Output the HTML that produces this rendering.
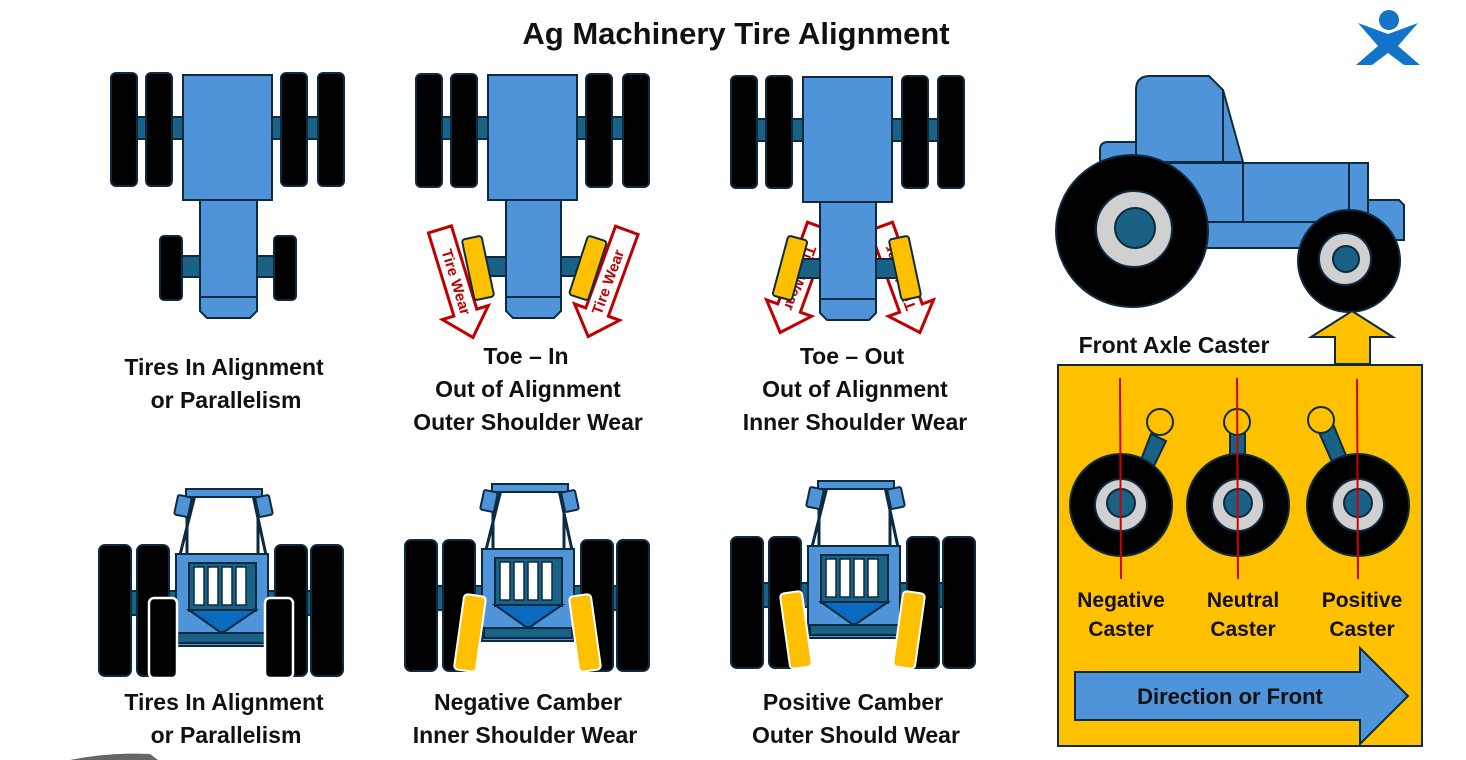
<!DOCTYPE html>
<html><head><meta charset="utf-8"><style>
html,body{margin:0;padding:0;background:#fff;}
svg{display:block;}
text{font-family:"Liberation Sans",sans-serif;font-weight:bold;fill:#111;}
</style></head><body>
<svg width="1466" height="760" viewBox="0 0 1466 760" xmlns="http://www.w3.org/2000/svg">
<defs>
<g id="arr">
<path d="M-12,-55 L12,-55 L12,32 L24,32 L0,58 L-24,32 L-12,32 Z" fill="#fff" stroke="#c00000" stroke-width="3"/>
</g>
</defs>
<text x="736" y="44" font-size="31" text-anchor="middle">Ag Machinery Tire Alignment</text>
<!-- logo -->
<g fill="#1273c7">
<circle cx="1389" cy="20" r="10"/>
<path d="M1358,23 L1388,34 L1418,23 L1398,46 L1420,65 L1404,65 L1388,53 L1372,65 L1356,65 L1378,46 Z"/>
</g>

<!-- top tractor 1 -->
<g stroke="#0d2b40" stroke-width="2">
<rect x="133" y="117" width="185" height="22" fill="#1a6186"/>
<rect x="111" y="73" width="26" height="113" rx="5" fill="#000"/>
<rect x="146" y="73" width="26" height="113" rx="5" fill="#000"/>
<rect x="281" y="73" width="26" height="113" rx="5" fill="#000"/>
<rect x="318" y="73" width="26" height="113" rx="5" fill="#000"/>
<rect x="178" y="256" width="100" height="21" fill="#1a6186"/>
<rect x="160" y="236" width="22" height="64" rx="4" fill="#000"/>
<rect x="274" y="236" width="22" height="64" rx="4" fill="#000"/>
<rect x="183" y="75" width="89" height="125" fill="#4f94d8"/>
<path d="M200,200 L257,200 L257,311 L250,318 L207,318 L200,311 Z" fill="#4f94d8"/>
<line x1="200" y1="297" x2="257" y2="297"/>
</g>
<text x="224" y="375" font-size="23" text-anchor="middle">Tires In Alignment</text>
<text x="226" y="408" font-size="23" text-anchor="middle">or Parallelism</text>

<!-- top tractor 2 toe-in -->
<g transform="translate(456,282) rotate(-17)"><use href="#arr"/><text x="0" y="0" font-size="15" style="fill:#c00000" text-anchor="middle" transform="rotate(90) translate(0,5)">Tire Wear</text></g>
<g transform="translate(608,282) rotate(20)"><use href="#arr"/><text x="0" y="0" font-size="15" style="fill:#c00000" text-anchor="middle" transform="rotate(-90) translate(0,5)">Tire Wear</text></g>
<g stroke="#0d2b40" stroke-width="2">
<rect x="438" y="117" width="185" height="22" fill="#1a6186"/>
<rect x="416" y="74" width="26" height="113" rx="5" fill="#000"/>
<rect x="451" y="74" width="26" height="113" rx="5" fill="#000"/>
<rect x="586" y="74" width="26" height="113" rx="5" fill="#000"/>
<rect x="623" y="74" width="26" height="113" rx="5" fill="#000"/>
<rect x="480" y="257" width="105" height="19" fill="#1a6186"/>
<rect x="488" y="75" width="89" height="125" fill="#4f94d8"/>
<path d="M506,200 L561,200 L561,311 L554,318 L513,318 L506,311 Z" fill="#4f94d8"/>
<line x1="506" y1="297" x2="561" y2="297"/>
<rect x="-10" y="-31" width="20" height="62" rx="3" fill="#ffc000" transform="translate(478,268) rotate(-12)"/>
<rect x="-10" y="-31" width="20" height="62" rx="3" fill="#ffc000" transform="translate(588,268) rotate(18)"/>
</g>
<text x="526" y="364" font-size="23" text-anchor="middle">Toe – In</text>
<text x="528" y="397" font-size="23" text-anchor="middle">Out of Alignment</text>
<text x="528" y="430" font-size="23" text-anchor="middle">Outer Shoulder Wear</text>

<!-- top tractor 3 toe-out -->
<g transform="translate(800,278) rotate(20)"><use href="#arr"/><text x="0" y="0" font-size="15" style="fill:#c00000" text-anchor="middle" transform="rotate(90) translate(0,5)">Tire Wear</text></g>
<g transform="translate(900,278) rotate(-20)"><use href="#arr"/><text x="0" y="0" font-size="15" style="fill:#c00000" text-anchor="middle" transform="rotate(-90) translate(0,5)">Tire Wear</text></g>
<g stroke="#0d2b40" stroke-width="2">
<rect x="753" y="119" width="190" height="22" fill="#1a6186"/>
<rect x="731" y="76" width="26" height="112" rx="5" fill="#000"/>
<rect x="766" y="76" width="26" height="112" rx="5" fill="#000"/>
<rect x="902" y="76" width="26" height="112" rx="5" fill="#000"/>
<rect x="938" y="76" width="26" height="112" rx="5" fill="#000"/>
<rect x="795" y="259" width="110" height="19" fill="#1a6186"/>
<rect x="803" y="77" width="89" height="125" fill="#4f94d8"/>
<path d="M820,202 L876,202 L876,313 L869,320 L827,320 L820,313 Z" fill="#4f94d8"/>
<line x1="820" y1="299" x2="876" y2="299"/>
<rect x="-10" y="-31" width="20" height="62" rx="3" fill="#ffc000" transform="translate(790,268) rotate(15)"/>
<rect x="-10" y="-31" width="20" height="62" rx="3" fill="#ffc000" transform="translate(905,268) rotate(-12)"/>
</g>
<text x="852" y="364" font-size="23" text-anchor="middle">Toe – Out</text>
<text x="855" y="397" font-size="23" text-anchor="middle">Out of Alignment</text>
<text x="855" y="430" font-size="23" text-anchor="middle">Inner Shoulder Wear</text>

<!-- rear view tractors -->
<g id="rv1" stroke="#0d2b40" stroke-width="2">
<rect x="131" y="591" width="182" height="24" fill="#1a6186"/>
<rect x="99" y="545" width="32" height="131" rx="6" fill="#000"/>
<rect x="137" y="545" width="32" height="131" rx="6" fill="#000"/>
<rect x="275" y="545" width="32" height="131" rx="6" fill="#000"/>
<rect x="311" y="545" width="32" height="131" rx="6" fill="#000"/>
<line x1="180" y1="555" x2="195" y2="495" stroke-width="3"/>
<line x1="266" y1="555" x2="253" y2="495" stroke-width="3"/>
<line x1="187" y1="500" x2="187" y2="556" stroke-width="3"/>
<line x1="258" y1="500" x2="258" y2="556" stroke-width="3"/>
<rect x="186" y="489" width="76" height="8" fill="#4f94d8"/>
<rect x="176" y="496" width="14" height="20" rx="2" fill="#4f94d8" transform="rotate(12 183 506)"/>
<rect x="257" y="496" width="14" height="20" rx="2" fill="#4f94d8" transform="rotate(-12 264 506)"/>
<rect x="176" y="554" width="92" height="92" fill="#4f94d8"/>
<rect x="178" y="633" width="88" height="10" fill="#1a6186"/>
<rect x="189" y="563" width="67" height="48" fill="#1a6186"/>
<path d="M189,610 L256,610 L224,632 L220,632 Z" fill="#0a6abf"/>
</g>
<g fill="#fff" stroke="#0d2b40" stroke-width="1.5">
<rect x="194" y="567" width="10" height="38"/><rect x="208" y="567" width="10" height="38"/><rect x="222" y="567" width="10" height="38"/><rect x="236" y="567" width="10" height="38"/>
</g>
<rect x="149" y="598" width="28" height="80" rx="5" fill="#000" stroke="#fff" stroke-width="2.5"/>
<rect x="265" y="598" width="28" height="80" rx="5" fill="#000" stroke="#fff" stroke-width="2.5"/>
<text x="224" y="710" font-size="23" text-anchor="middle">Tires In Alignment</text>
<text x="226" y="743" font-size="23" text-anchor="middle">or Parallelism</text>

<g transform="translate(306,-5)">
<use href="#rv1"/>
<g fill="#fff" stroke="#0d2b40" stroke-width="1.5">
<rect x="194" y="567" width="10" height="38"/><rect x="208" y="567" width="10" height="38"/><rect x="222" y="567" width="10" height="38"/><rect x="236" y="567" width="10" height="38"/>
</g>
</g>
<rect x="-11" y="-38" width="22" height="76" rx="4" fill="#ffc000" stroke="#fff" stroke-width="2" transform="translate(470,633) rotate(8)"/>
<rect x="-11" y="-38" width="22" height="76" rx="4" fill="#ffc000" stroke="#fff" stroke-width="2" transform="translate(585,633) rotate(-8)"/>
<text x="528" y="710" font-size="23" text-anchor="middle">Negative Camber</text>
<text x="525" y="743" font-size="23" text-anchor="middle">Inner Shoulder Wear</text>

<g transform="translate(632,-8)">
<use href="#rv1"/>
<g fill="#fff" stroke="#0d2b40" stroke-width="1.5">
<rect x="194" y="567" width="10" height="38"/><rect x="208" y="567" width="10" height="38"/><rect x="222" y="567" width="10" height="38"/><rect x="236" y="567" width="10" height="38"/>
</g>
</g>
<rect x="-11" y="-38" width="22" height="76" rx="4" fill="#ffc000" stroke="#fff" stroke-width="2" transform="translate(796,630) rotate(-8)"/>
<rect x="-11" y="-38" width="22" height="76" rx="4" fill="#ffc000" stroke="#fff" stroke-width="2" transform="translate(909,630) rotate(8)"/>
<text x="853" y="710" font-size="23" text-anchor="middle">Positive Camber</text>
<text x="856" y="743" font-size="23" text-anchor="middle">Outer Should Wear</text>

<!-- side tractor -->
<g stroke="#0d2b40" stroke-width="2" fill="#4f94d8">
<path d="M1100,150 Q1100,142 1108,142 L1136,142 L1136,170 L1100,170 Z"/>
<path d="M1136,90 Q1136,76 1150,76 L1209,76 L1223,90 L1243,162 L1136,162 Z"/>
<line x1="1223" y1="90" x2="1223" y2="162"/>
<rect x="1136" y="163" width="232" height="60"/>
<line x1="1243" y1="163" x2="1243" y2="223"/>
<line x1="1349" y1="163" x2="1349" y2="223"/>
<path d="M1368,200 L1399,200 L1404,205 L1404,240 L1368,240 Z"/>
<rect x="1170" y="222" width="190" height="26"/>
<circle cx="1132" cy="231" r="76" fill="#000"/>
<circle cx="1134" cy="229" r="38" fill="#d0d0d0"/>
<circle cx="1135" cy="228" r="20" fill="#1a6186"/>
<circle cx="1349" cy="261" r="51" fill="#000"/>
<circle cx="1345" cy="259" r="26" fill="#d0d0d0"/>
<circle cx="1346" cy="259" r="13" fill="#1a6186"/>
</g>
<path d="M1352,311 L1393,337 L1370,337 L1370,364 L1335,364 L1335,337 L1311,337 Z" fill="#ffc000" stroke="#0d2b40" stroke-width="2"/>
<text x="1174" y="353" font-size="23" text-anchor="middle">Front Axle Caster</text>

<!-- caster box -->
<rect x="1058" y="365" width="364" height="381" fill="#ffc000" stroke="#0d2b40" stroke-width="2"/>
<g stroke="#0d2b40" stroke-width="2">
<path d="M1139,465 L1151,434 L1166,441 L1152,470 Z" fill="#1a6186"/>
<circle cx="1160" cy="422" r="13" fill="#ffc000"/>
<rect x="1230" y="431" width="15" height="32" fill="#1a6186"/>
<circle cx="1237" cy="422" r="13" fill="#ffc000"/>
<path d="M1318,430 L1333,424 L1347,458 L1333,464 Z" fill="#1a6186"/>
<circle cx="1321" cy="420" r="13" fill="#ffc000"/>
<circle cx="1121" cy="505" r="51" fill="#000"/>
<circle cx="1121" cy="505" r="26" fill="#d0d0d0"/>
<circle cx="1121" cy="503" r="14" fill="#1a6186"/>
<circle cx="1238" cy="505" r="51" fill="#000"/>
<circle cx="1238" cy="505" r="26" fill="#d0d0d0"/>
<circle cx="1238" cy="503" r="14" fill="#1a6186"/>
<circle cx="1358" cy="505" r="51" fill="#000"/>
<circle cx="1358" cy="505" r="26" fill="#d0d0d0"/>
<circle cx="1358" cy="503" r="14" fill="#1a6186"/>
</g>
<g stroke="#d00000" stroke-width="2">
<line x1="1120" y1="378" x2="1121" y2="579"/>
<line x1="1237" y1="378" x2="1238" y2="579"/>
<line x1="1357" y1="379" x2="1358" y2="579"/>
</g>
<text x="1121" y="607" font-size="21" text-anchor="middle">Negative</text>
<text x="1121" y="636" font-size="21" text-anchor="middle">Caster</text>
<text x="1243" y="607" font-size="21" text-anchor="middle">Neutral</text>
<text x="1243" y="636" font-size="21" text-anchor="middle">Caster</text>
<text x="1362" y="607" font-size="21" text-anchor="middle">Positive</text>
<text x="1362" y="636" font-size="21" text-anchor="middle">Caster</text>
<path d="M1075,672 L1360,672 L1360,648 L1408,696 L1360,744 L1360,720 L1075,720 Z" fill="#4f94d8" stroke="#0d2b40" stroke-width="2"/>
<text x="1230" y="704" font-size="22" text-anchor="middle">Direction or Front</text>

<path d="M70,760 Q110,752 150,754 L158,760 Z" fill="#666"/>
</svg>
</body></html>
